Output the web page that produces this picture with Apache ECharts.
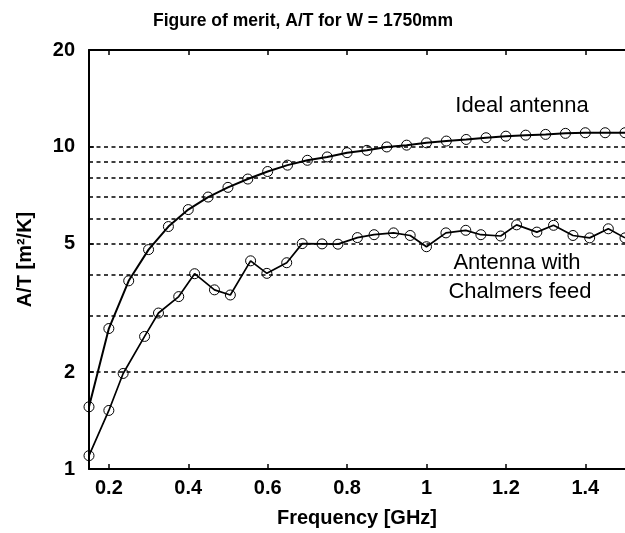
<!DOCTYPE html>
<html>
<head>
<meta charset="utf-8">
<script src="https://cdn.jsdelivr.net/npm/echarts@6/dist/echarts.min.js"></script>
<style>html,body{margin:0;padding:0;background:#fff}#c{width:625px;height:533px}</style>
</head>
<body>
<div id="c"></div>
<script>
// Ideal antenna
const idealFreq = [0.15,0.20,0.25,0.30,0.35,0.40,0.45,0.50,0.55,0.60,0.65,0.70,0.75,0.80,0.85,0.90,0.95,1.00,1.05,1.10,1.15,1.20,1.25,1.30,1.35,1.40,1.45,1.50];
const idealAT = [1.56,2.73,3.84,4.80,5.66,6.39,6.99,7.49,7.95,8.39,8.78,9.09,9.31,9.60,9.76,10.0,10.13,10.30,10.43,10.55,10.68,10.80,10.88,10.94,11.02,11.07,11.07,11.07];
// Antenna with Chalmers feed
const chalFreq = [0.15,0.20,0.236,0.29,0.325,0.376,0.416,0.466,0.506,0.557,0.598,0.648,0.687,0.737,0.777,0.826,0.868,0.917,0.959,1.0,1.049,1.099,1.137,1.187,1.227,1.278,1.32,1.369,1.411,1.458,1.5];
const chalAT = [1.10,1.52,1.98,2.58,3.05,3.43,4.04,3.60,3.47,4.43,4.05,4.37,5.01,5.00,4.99,5.23,5.34,5.41,5.31,4.90,5.41,5.51,5.34,5.29,5.73,5.44,5.71,5.31,5.22,5.57,5.22];
// axis ticks
const xTicks = [0.2,0.4,0.6,0.8,1.0,1.2,1.4];
const yTicks = [1,2,5,10,20];
const yGrid = [2,3,4,5,6,7,8,9,10];

const FONT = 'Liberation Sans';
const chart = echarts.init(document.getElementById('c'), null, {renderer:'canvas'});
const pair = (xs, ys) => xs.map((x,i)=>[x, ys[i]]);
const seriesStyle = (w) => ({
  type:'line', symbol:'circle', symbolSize:10, showSymbol:true,
  itemStyle:{color:'rgba(0,0,0,0)', borderColor:'#000', borderWidth:1},
  lineStyle:{color:'#000', width:w}, animation:false, z:3
});
chart.setOption({
  animation:false,
  backgroundColor:'#fff',
  title:{text:'Figure of merit, A/T for W = 1750mm', left:298, top:7, textAlign:'center',
    textStyle:{fontFamily:FONT, fontSize:17.5, fontWeight:'bold', color:'#000'}},
  grid:{left:89, right:-1, top:50, bottom:61, containLabel:false},
  xAxis:[{
    type:'value', min:0.15, max:1.5, position:'bottom',
    name:'Frequency [GHz]', nameLocation:'middle', nameGap:39,
    nameTextStyle:{fontFamily:FONT, fontSize:20, fontWeight:'bold', color:'#000'},
    axisLine:{lineStyle:{color:'#000', width:2}},
    axisTick:{inside:true, length:5, customValues:xTicks, lineStyle:{color:'#000', width:1.5}},
    axisLabel:{customValues:xTicks, fontFamily:FONT, fontSize:20, fontWeight:'bold', color:'#000', margin:9,
      formatter:(v)=>String(+v.toFixed(2))},
    splitLine:{show:false}
  },{
    type:'value', min:0.15, max:1.5, position:'top',
    axisLine:{onZero:false, lineStyle:{color:'#000', width:2}},
    axisTick:{inside:true, length:5, customValues:xTicks, lineStyle:{color:'#000', width:1.5}},
    axisLabel:{show:false}, splitLine:{show:false}
  }],
  yAxis:[{
    type:'log', logBase:10, min:1, max:20,
    name:'A/T [m\u00b2/K]', nameLocation:'middle', nameGap:54,
    nameTextStyle:{fontFamily:FONT, fontSize:20, fontWeight:'bold', color:'#000'},
    axisLine:{show:true, lineStyle:{color:'#000', width:2}},
    axisTick:{inside:true, length:5, customValues:yTicks, lineStyle:{color:'#000', width:1.5}},
    axisLabel:{customValues:yTicks, fontFamily:FONT, fontSize:20, fontWeight:'bold', color:'#000', margin:14},
    splitLine:{show:false}, minorTick:{show:false}, minorSplitLine:{show:false}
  }],
  graphic:[
    {type:'text', x:522, y:106, style:{text:'Ideal antenna', font:'22px "Liberation Sans"', fill:'#000', textAlign:'center', textVerticalAlign:'middle'}},
    {type:'text', x:517, y:263, style:{text:'Antenna with', font:'22px "Liberation Sans"', fill:'#000', textAlign:'center', textVerticalAlign:'middle'}},
    {type:'text', x:520, y:292, style:{text:'Chalmers feed', font:'22px "Liberation Sans"', fill:'#000', textAlign:'center', textVerticalAlign:'middle'}}
  ],
  series:[
    {type:'line', data:[], z:1, silent:true,
     markLine:{silent:true, symbol:['none','none'], label:{show:false}, animation:false,
       lineStyle:{color:'#000', type:[4,3.5], width:1.5},
       data:yGrid.map(v=>({yAxis:v}))}},
    Object.assign(seriesStyle(2), {name:'Ideal antenna', data:pair(idealFreq, idealAT)}),
    Object.assign(seriesStyle(1.7), {name:'Antenna with Chalmers feed', data:pair(chalFreq, chalAT)})
  ]
});
</script>
</body>
</html>
